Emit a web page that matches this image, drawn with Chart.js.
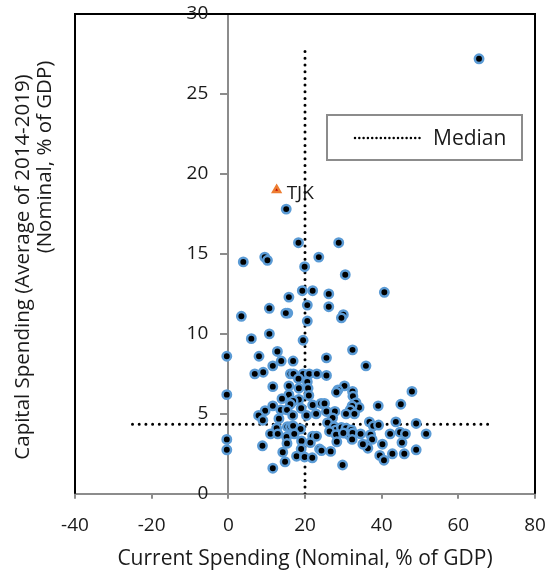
<!DOCTYPE html>
<html>
<head>
<meta charset="utf-8">
<script src="https://cdn.jsdelivr.net/npm/chart.js@4"></script>
<style>
  html, body { margin: 0; padding: 0; background: #fff; }
  #chart { display: block; }
</style>
</head>
<body>
<canvas id="chart" width="558" height="574"></canvas>
<script>
// values
const currentSpending = [
  65.4, 15.1, 18.3, 28.8, 3.9, 9.5, 10.2, 23.6, 19.9, 30.5,
  19.3, 22.0, 15.8, 26.2, 40.7, 10.7, 15.5, 15.0, 20.6, 26.2,
  3.4, 30.0, 29.5, 20.6, 6.0, 10.7, 19.5, -0.4, 8.0, 12.8,
  32.4, 13.8, 16.9, 25.6, 11.6, 35.9, 6.9, 9.1, 16.2, 17.0,
  19.5, 21.1, 23.1, 25.6, 18.3, 20.6, -0.4, 11.6, 15.8, 18.4,
  20.8, 30.3, 28.6, 28.2, 32.4, 47.9, 15.8, 21.0, 14.0, 18.4,
  16.9, 32.5, 16.2, 11.6, 19.0, 22.0, 9.6, 13.7, 15.3, 24.2,
  25.1, 33.3, 34.1, 32.3, 31.8, 39.1, 45.0, 25.6, 27.8, 7.9,
  9.0, 13.2, 16.8, 20.4, 22.9, 30.7, 32.9, 27.2, 25.9, 27.6,
  28.1, 15.4, 16.2, 16.9, 12.6, 18.85, 29.5, 30.7, 32.1, 31.4,
  32.4, 36.8, 37.8, 39.2, 43.7, 49.0, 11.0, 12.9, 15.2, 17.2,
  22.0, 23.0, 26.4, 28.1, 30.0, 34.5, 37.1, 42.2, 44.8, 46.2,
  51.6, -0.4, -0.4, 15.3, 19.1, 21.4, 28.3, 32.3, 37.5, 36.0,
  36.4, 35.1, 40.2, 45.3, 8.9, 14.2, 19.0, 23.8, 24.3, 26.7,
  17.8, 19.9, 21.9, 14.8, 39.5, 40.6, 42.8, 45.9, 49.0, 11.6,
  29.8
];
const capitalSpending = [
  27.2, 17.8, 15.7, 15.7, 14.5, 14.8, 14.6, 14.8, 14.2, 13.7,
  12.7, 12.7, 12.3, 12.5, 12.6, 11.6, 11.3, 11.3, 11.8, 11.7,
  11.1, 11.2, 11.0, 10.8, 9.7, 10.0, 9.6, 8.6, 8.6, 8.9,
  9.0, 8.3, 8.3, 8.5, 8.0, 8.0, 7.5, 7.6, 7.5, 7.5,
  7.5, 7.5, 7.5, 7.4, 7.2, 7.0, 6.2, 6.7, 6.75, 6.6,
  6.6, 6.75, 6.5, 6.35, 6.4, 6.4, 6.2, 6.15, 5.95, 5.9,
  5.8, 6.1, 5.6, 5.5, 5.35, 5.55, 5.2, 5.25, 5.25, 5.65,
  5.65, 5.7, 5.4, 5.5, 5.25, 5.5, 5.6, 5.15, 5.15, 4.9,
  4.6, 4.7, 4.9, 4.9, 5.0, 5.0, 5.0, 4.75, 4.45, 4.2,
  4.0, 4.2, 4.2, 4.25, 4.1, 4.05, 4.15, 4.1, 4.0, 3.7,
  3.8, 4.5, 4.25, 4.3, 4.5, 4.4, 3.75, 3.75, 3.55, 3.75,
  3.6, 3.6, 3.9, 3.7, 3.8, 3.75, 3.7, 3.75, 3.85, 3.75,
  3.75, 3.4, 2.75, 3.15, 3.3, 3.2, 3.25, 3.4, 3.4, 3.05,
  2.85, 3.1, 3.1, 3.2, 3.0, 2.6, 2.8, 2.8, 2.7, 2.65,
  2.35, 2.3, 2.25, 2.0, 2.4, 2.1, 2.5, 2.5, 2.75, 1.6,
  1.8
];
const highlightLabel = 'TJK';
const highlightCurrent = [12.6];
const highlightCapital = [19.0];

const medianCurrent = 20;
const medianCapital = 4.35;
const medianCurrentSpan = [0, 28];   // capital range of the vertical median line
const medianCapitalSpan = [-25, 69]; // current range of the horizontal median line

const xTicks = [-40, -20, 0, 20, 40, 60, 80];
const yTicks = [0, 5, 10, 15, 20, 25, 30];

const xTitle = 'Current Spending (Nominal, % of GDP)';
const yTitleLines = ['Capital Spending (Average of 2014-2019)', '(Nominal, % of GDP)'];
const legendLabel = 'Median';

const FONT = '"Open Sans", sans-serif';
const TEXT = '#1a1a1a';
const AXIS = '#8c8c8c';
const BLUE = '#5b9bd5';

const points = currentSpending.map((x, i) => ({ x, y: capitalSpending[i] }));
const highlight = highlightCurrent.map((x, i) => ({ x, y: highlightCapital[i] }));

const dotted = {
  showLine: true,
  borderColor: '#000',
  borderWidth: 3,
  borderDash: [0, 6.7],
  borderCapStyle: 'round',
  pointRadius: 0,
  fill: false
};

const frame = {
  id: 'frame',
  beforeDatasetsDraw(chart) {
    const { ctx, chartArea: a } = chart;
    ctx.save();
    ctx.strokeStyle = '#000';
    ctx.lineWidth = 2;
    ctx.beginPath();
    ctx.moveTo(a.left, a.bottom);
    ctx.lineTo(a.left, a.top);
    ctx.lineTo(a.right, a.top);
    ctx.lineTo(a.right, a.bottom);
    ctx.stroke();
    ctx.restore();
  }
};

// tick labels: the y axis sits at x = 0, so both sets are placed by hand
// from the scales' own pixel positions
const tickLabels = {
  id: 'tickLabels',
  afterDraw(chart) {
    const { ctx, scales: { x, y } } = chart;
    ctx.save();
    ctx.fillStyle = TEXT;
    ctx.font = '19px ' + FONT;
    ctx.textBaseline = 'middle';
    ctx.textAlign = 'center';
    xTicks.forEach(v => ctx.fillText(String(v), x.getPixelForValue(v), y.bottom + 32));
    ctx.textAlign = 'right';
    const axisX = x.getPixelForValue(0);
    yTicks.forEach(v => ctx.fillText(String(v), axisX - 20, y.getPixelForValue(v)));
    ctx.restore();
  }
};

const extras = {
  id: 'extras',
  afterDraw(chart) {
    const ctx = chart.ctx;
    ctx.save();
    // y axis title, two rotated lines
    ctx.fillStyle = TEXT;
    ctx.font = '20.5px ' + FONT;
    ctx.textAlign = 'center';
    ctx.textBaseline = 'middle';
    ctx.save();
    ctx.translate(23, 267);
    ctx.rotate(-Math.PI / 2);
    ctx.fillText(yTitleLines[0], 0, 0);
    ctx.restore();
    ctx.save();
    ctx.translate(45, 157);
    ctx.rotate(-Math.PI / 2);
    ctx.fillText(yTitleLines[1], 0, 0);
    ctx.restore();

    // TJK label
    const pt = chart.getDatasetMeta(1).data[0];
    ctx.textAlign = 'left';
    ctx.font = '19px ' + FONT;
    ctx.fillText(highlightLabel, pt.x + 10, pt.y + 4);

    // legend box
    ctx.fillStyle = '#fff';
    ctx.fillRect(327, 115, 195, 45);
    ctx.strokeStyle = AXIS;
    ctx.lineWidth = 2;
    ctx.strokeRect(327, 115, 195, 45);
    ctx.strokeStyle = '#000';
    ctx.lineWidth = 2.5;
    ctx.lineCap = 'round';
    ctx.setLineDash([0, 4.3]);
    ctx.beginPath();
    ctx.moveTo(355, 138);
    ctx.lineTo(423, 138);
    ctx.stroke();
    ctx.setLineDash([]);
    ctx.fillStyle = TEXT;
    ctx.font = '21px ' + FONT;
    ctx.fillText(legendLabel, 433, 139);
    ctx.restore();
  }
};

new Chart(document.getElementById('chart'), {
  type: 'scatter',
  data: {
    datasets: [
      {
        data: points,
        backgroundColor: '#000',
        borderColor: BLUE,
        borderWidth: 2.5,
        pointRadius: 4.2,
        pointHoverRadius: 4.2
      },
      {
        data: highlight,
        pointStyle: 'triangle',
        backgroundColor: '#c00000',
        borderColor: '#ed7d31',
        borderWidth: 2.5,
        pointRadius: 4,
        pointHoverRadius: 4
      },
      Object.assign({
        data: [
          { x: medianCurrent, y: medianCurrentSpan[0] },
          { x: medianCurrent, y: medianCurrentSpan[1] }
        ]
      }, dotted),
      Object.assign({
        data: [
          { x: medianCapitalSpan[0], y: medianCapital },
          { x: medianCapitalSpan[1], y: medianCapital }
        ]
      }, dotted)
    ]
  },
  options: {
    responsive: false,
    animation: false,
    layout: { padding: { left: 75, right: 23, top: 14, bottom: 0 } },
    plugins: {
      legend: { display: false },
      tooltip: { enabled: false }
    },
    scales: {
      x: {
        type: 'linear',
        min: xTicks[0],
        max: xTicks[xTicks.length - 1],
        ticks: { stepSize: xTicks[1] - xTicks[0], display: false },
        grid: { drawOnChartArea: false, drawTicks: true, tickLength: 5, color: AXIS, lineWidth: 2 },
        border: { color: AXIS, width: 2 },
        title: {
          display: true,
          text: xTitle,
          color: TEXT,
          font: { family: FONT, size: 21 },
          padding: { top: 48, bottom: 2 }
        }
      },
      y: {
        type: 'linear',
        position: { x: 0 },
        min: yTicks[0],
        max: yTicks[yTicks.length - 1],
        ticks: { stepSize: yTicks[1] - yTicks[0], display: false },
        grid: { drawOnChartArea: false, drawTicks: true, tickLength: 7, color: AXIS, lineWidth: 2 },
        border: { color: AXIS, width: 2 }
      }
    }
  },
  plugins: [frame, tickLabels, extras]
});
</script>
</body>
</html>
